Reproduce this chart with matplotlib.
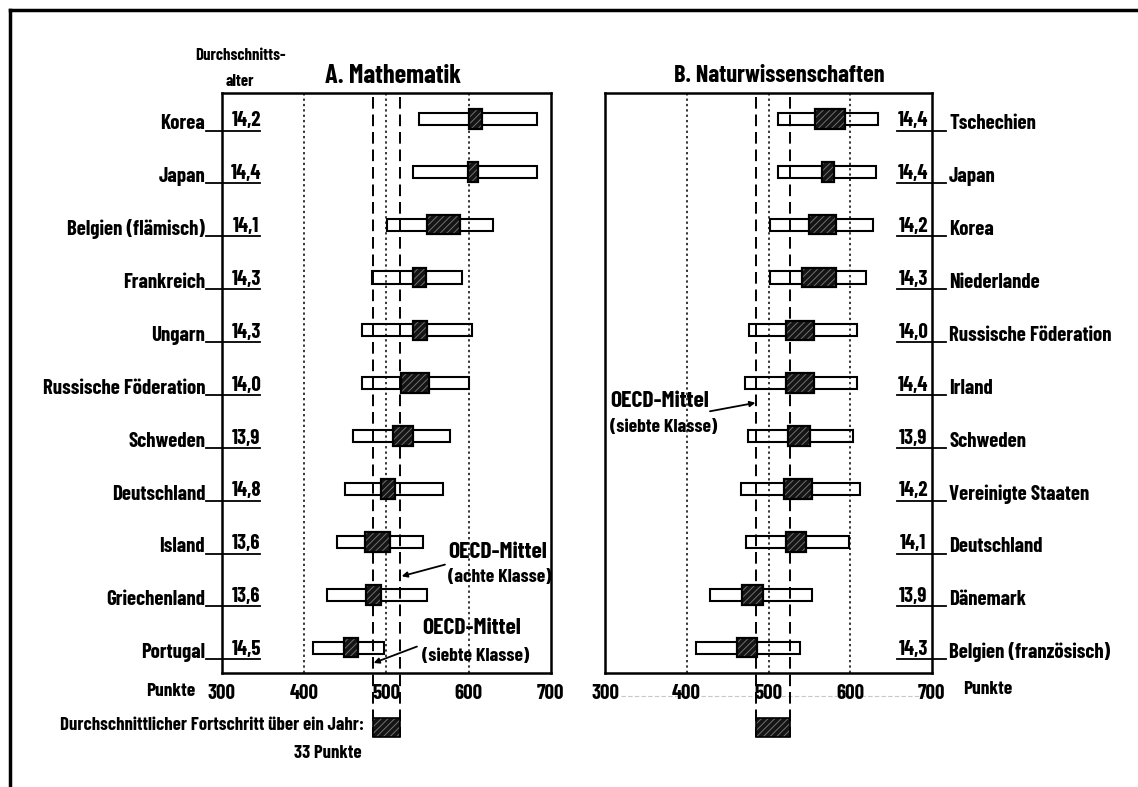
import matplotlib
matplotlib.use('Agg')
import matplotlib.pyplot as plt
import matplotlib.transforms as mtransforms
from matplotlib import font_manager
from matplotlib.patches import Rectangle
from matplotlib.lines import Line2D

# condensed bold face, close to the Futura Condensed of the original
avail = {f.name for f in font_manager.fontManager.ttflist}
if 'Barlow Condensed' in avail:
    plt.rcParams['font.family'] = ['Barlow Condensed', 'DejaVu Sans']
    k = 1.0
else:
    plt.rcParams['font.family'] = ['DejaVu Sans']
    plt.rcParams['font.stretch'] = 'condensed'
    k = 0.75
plt.rcParams['font.weight'] = 'bold'
plt.rcParams['hatch.linewidth'] = 0.7

# A. Mathematik
math_countries = ['Korea', 'Japan', 'Belgien (flämisch)', 'Frankreich', 'Ungarn',
                  'Russische Föderation', 'Schweden', 'Deutschland', 'Island',
                  'Griechenland', 'Portugal']
math_age = ['14,2', '14,4', '14,1', '14,3', '14,3', '14,0', '13,9', '14,8', '13,6', '13,6', '14,5']
math_p5 = [540, 533, 501, 482, 470, 470, 460, 450, 440, 428, 411]
math_p95 = [683, 683, 630, 592, 604, 600, 577, 569, 545, 550, 497]
math_ci_lo = [601, 599, 549, 533, 533, 518, 508, 494, 474, 475, 448]
math_ci_hi = [616, 612, 590, 548, 549, 552, 532, 511, 504, 494, 466]
math_oecd = [484, 517]  # siebte / achte Klasse

# B. Naturwissenschaften
sci_countries = ['Tschechien', 'Japan', 'Korea', 'Niederlande', 'Russische Föderation',
                 'Irland', 'Schweden', 'Vereinigte Staaten', 'Deutschland', 'Dänemark',
                 'Belgien (französisch)']
sci_age = ['14,4', '14,4', '14,2', '14,3', '14,0', '14,4', '13,9', '14,2', '14,1', '13,9', '14,3']
sci_p5 = [512, 512, 502, 502, 476, 471, 475, 466, 472, 428, 411]
sci_p95 = [634, 632, 628, 619, 608, 608, 603, 612, 599, 553, 539]
sci_ci_lo = [557, 566, 549, 541, 522, 522, 524, 519, 522, 467, 462]
sci_ci_hi = [593, 580, 582, 582, 556, 556, 551, 553, 546, 493, 486]
sci_oecd = [485, 526]

ticks = [300, 400, 500, 600, 700]

W, H = 1138, 787
fig = plt.figure(figsize=(W / 100, H / 100), dpi=100)
fig.patch.set_facecolor('white')


def fx(px):
    return px / W


def fy(py):
    return 1 - py / H


ax_m = fig.add_axes([fx(222), fy(673), 328.7 / W, 580 / H])
ax_s = fig.add_axes([fx(605), fy(673), 327 / W, 580 / H])

FS_NAME = 15 * k
FS_AGE = 15 * k
FS_TICK = 15 * k
DARK = '#141414'
HATCH = '#707070'


def draw_panel(ax, names, ages, p5, p95, lo, hi, oecd, side):
    n = len(names)
    y = list(range(n))
    ax.set_xlim(300, 700)
    ax.set_ylim(10.48, -0.49)
    ax.set_yticks([])
    ax.set_xticks(ticks)
    ax.set_xticklabels([str(t) for t in ticks])
    ax.tick_params(axis='x', length=0, pad=8, labelsize=FS_TICK)
    for s in ax.spines.values():
        s.set_linewidth(1.8)

    # white boxes (5. bis 95. Perzentil)
    ax.barh(y, [b - a for a, b in zip(p5, p95)], left=p5, height=0.23,
            color='white', edgecolor='black', linewidth=1.5, zorder=2)

    # reference lines
    for v in (400, 500, 600):
        ax.axvline(v, color='black', lw=1.1, ls=(0, (1.5, 2)), zorder=3)
    trans = mtransforms.blended_transform_factory(ax.transData, ax.transAxes)
    for v in oecd:
        ax.plot([v, v], [0.993, -0.11], transform=trans, color='black', lw=1.4,
                ls=(0, (6, 3)), zorder=3, clip_on=False)

    # dark boxes (Mittelwert +/- Standardfehler)
    ax.barh(y, [b - a for a, b in zip(lo, hi)], left=lo, height=0.37,
            color=DARK, edgecolor=HATCH, hatch='/////', linewidth=0, zorder=4)
    ax.barh(y, [b - a for a, b in zip(lo, hi)], left=lo, height=0.37,
            fill=False, edgecolor='black', linewidth=1.6, zorder=5)

    # Fortschritt-Kasten unter der Achse
    ax.add_patch(Rectangle((oecd[0], -0.110), oecd[1] - oecd[0], 0.033, transform=trans,
                           facecolor=DARK, edgecolor=HATCH, hatch='/////',
                           linewidth=0, clip_on=False, zorder=4))
    ax.add_patch(Rectangle((oecd[0], -0.110), oecd[1] - oecd[0], 0.033, transform=trans,
                           fill=False, edgecolor='black', linewidth=1.2, clip_on=False, zorder=5))

    # labels with leader lines and ages
    for i, (name, age) in enumerate(zip(names, ages)):
        if side == 'left':
            ax.text(279.5, i + 0.2, name, ha='right', va='baseline', fontsize=FS_NAME, clip_on=False)
            ax.plot([280, 346], [i + 0.22, i + 0.22], color='black', lw=1.3, clip_on=False)
            ax.text(329.5, i + 0.14, age, ha='center', va='baseline', fontsize=FS_AGE)
        else:
            ax.text(721, i + 0.2, name, ha='left', va='baseline', fontsize=FS_NAME, clip_on=False)
            ax.plot([657, 717], [i + 0.22, i + 0.22], color='black', lw=1.3, clip_on=False)
            ax.text(677, i + 0.14, age, ha='center', va='baseline', fontsize=FS_AGE)


draw_panel(ax_m, math_countries, math_age, math_p5, math_p95, math_ci_lo, math_ci_hi,
           math_oecd, 'left')
draw_panel(ax_s, sci_countries, sci_age, sci_p5, sci_p95, sci_ci_lo, sci_ci_hi,
           sci_oecd, 'right')

# faint line along the tick labels of panel B
trans_s = mtransforms.blended_transform_factory(ax_s.transData, ax_s.transAxes)
ax_s.plot([320, 690], [-0.04, -0.04], transform=trans_s, color='#c8c8c8', lw=0.8,
          ls=(0, (4, 2)), clip_on=False, zorder=0)

# OECD annotations
arrow = dict(arrowstyle='-|>', color='black', lw=1.3, mutation_scale=8, shrinkA=0, shrinkB=0)
ax_m.text(575, 8.19, 'OECD-Mittel', ha='left', va='center', fontsize=17 * k, zorder=6)
ax_m.text(575, 8.68, '(achte Klasse)', ha='left', va='center', fontsize=14 * k, zorder=6)
ax_m.annotate('', xy=(518.6, 8.65), xytext=(571.3, 8.43), arrowprops=arrow, zorder=6)
ax_m.text(543.3, 9.62, 'OECD-Mittel', ha='left', va='center', fontsize=17 * k, zorder=6)
ax_m.text(543.3, 10.17, '(siebte Klasse)', ha='left', va='center', fontsize=14 * k, zorder=6)
ax_m.annotate('', xy=(484.5, 10.29), xytext=(537.2, 9.98), arrowprops=arrow, zorder=6)

ax_s.text(306, 5.34, 'OECD-Mittel', ha='left', va='center', fontsize=17 * k, zorder=6)
ax_s.text(306, 5.84, '(siebte Klasse)', ha='left', va='center', fontsize=14 * k, zorder=6)
ax_s.annotate('', xy=(484, 5.37), xytext=(428.4, 5.53), arrowprops=arrow, zorder=6)

# headings and axis captions
fig.text(fx(240), fy(55), 'Durchschnitts-', ha='center', va='center', fontsize=12 * k)
fig.text(fx(240), fy(82), 'alter', ha='center', va='center', fontsize=12 * k)
fig.text(fx(393), fy(76), 'A. Mathematik', ha='center', va='center', fontsize=19 * k)
fig.text(fx(779), fy(76), 'B. Naturwissenschaften', ha='center', va='center', fontsize=17.5 * k)
fig.text(fx(171), fy(692), 'Punkte', ha='center', va='center', fontsize=14 * k)
fig.text(fx(988), fy(690), 'Punkte', ha='center', va='center', fontsize=14 * k)
fig.text(fx(364), fy(726), 'Durchschnittlicher Fortschritt über ein Jahr:', ha='right',
         va='center', fontsize=13.5 * k)
fig.text(fx(328), fy(753), '33 Punkte', ha='center', va='center', fontsize=13.5 * k)

# outer frame (top and left only)
fig.add_artist(Line2D([fx(10), 1.0], [fy(10), fy(10)], color='black', lw=2.5))
fig.add_artist(Line2D([fx(10), fx(10)], [fy(10), 0.0], color='black', lw=2.5))

fig.savefig('out.png', dpi=100, facecolor='white')
